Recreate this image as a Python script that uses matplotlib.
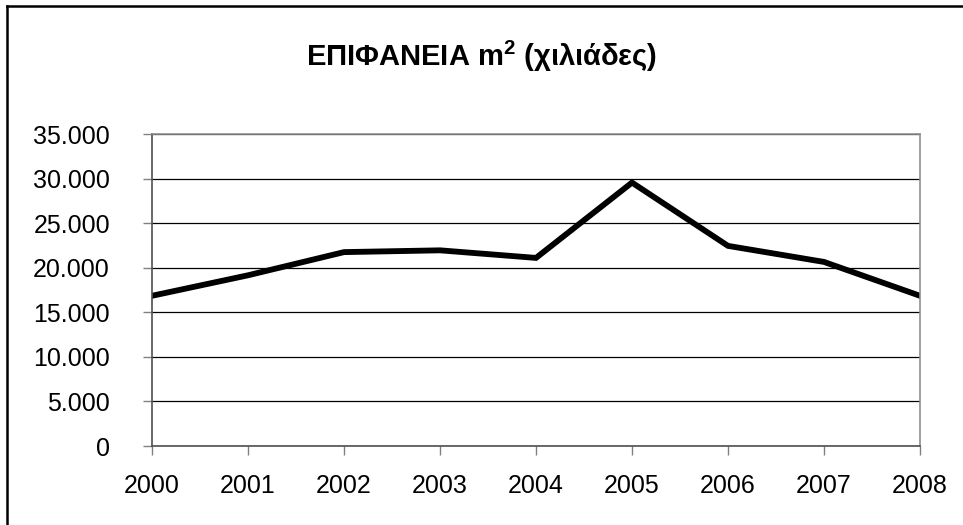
import matplotlib.pyplot as plt
from matplotlib.lines import Line2D
from matplotlib.ticker import FuncFormatter

plt.rcParams['font.family'] = ['Liberation Sans', 'DejaVu Sans']
plt.rcParams['mathtext.fontset'] = 'custom'
plt.rcParams['mathtext.bf'] = 'Liberation Sans:bold'
plt.rcParams['mathtext.rm'] = 'Liberation Sans'

years = ['2000', '2001', '2002', '2003', '2004', '2005', '2006', '2007', '2008']
area = [16850, 19150, 21750, 21950, 21100, 29550, 22450, 20650, 16850]
y_ticks = [0, 5000, 10000, 15000, 20000, 25000, 30000, 35000]
title = 'ΕΠΙΦΑΝΕΙΑ $\\mathbf{m^2}$ (χιλιάδες)'

fig = plt.figure(figsize=(9.63, 5.25), dpi=100)
# plot area in pixels: left 152, right 920, top 134, bottom 446
ax = fig.add_axes([152 / 963, 1 - 446 / 525, (920 - 152) / 963, (446 - 134) / 525])

x = list(range(len(years)))
ax.plot(x, area, color='black', linewidth=4.2, solid_joinstyle='miter')

ax.set_xlim(0, len(years) - 1)
ax.set_ylim(0, 35000)
ax.set_xticks(x)
ax.set_xticklabels(years)
ax.set_yticks(y_ticks)
ax.yaxis.set_major_formatter(FuncFormatter(lambda v, p: f'{int(v):,}'.replace(',', '.')))

ax.grid(axis='y', color='black', linewidth=0.9)
ax.set_axisbelow(True)
ax.tick_params(axis='both', direction='out', length=6.3, width=1, colors='#808080',
               labelcolor='black', labelsize=18)
ax.tick_params(axis='x', pad=14)
ax.tick_params(axis='y', pad=24)

for side in ['top', 'right']:
    ax.spines[side].set_color('#909090')
    ax.spines[side].set_linewidth(1.2)
ax.spines['left'].set_color('#505050')
ax.spines['bottom'].set_color('#505050')
ax.spines['left'].set_linewidth(1.2)
ax.spines['bottom'].set_linewidth(1.2)

fig.text(0.5, 1 - 56 / 525, title, ha='center', va='center',
         fontsize=21, fontweight='bold')

# outer chart frame (top and left edges visible)
fig.add_artist(Line2D([7 / 963, 1], [1 - 6 / 525, 1 - 6 / 525], color='black', linewidth=1.8))
fig.add_artist(Line2D([7 / 963, 7 / 963], [0, 1 - 6 / 525], color='black', linewidth=1.8))

fig.savefig('out.png', dpi=100)
